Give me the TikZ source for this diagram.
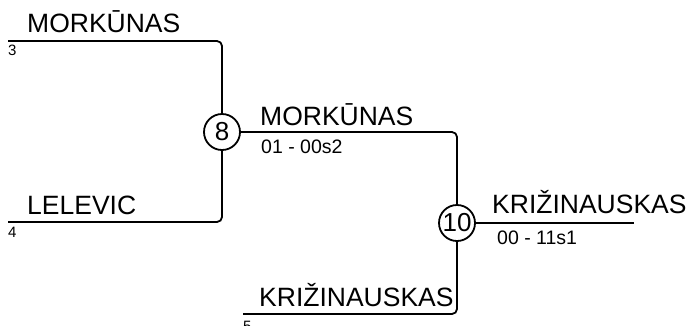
\documentclass[tikz,border=0pt]{standalone}
\usepackage{fontspec}
\setmainfont{Liberation Sans}
\begin{document}
\begin{tikzpicture}[x=1pt,y=-1pt,line join=round,line cap=butt,
		rnd/.style={line width=1.8pt,rounded corners=5pt},
		game/.style={circle,draw,line width=1.8pt,fill=white,minimum size=36pt,inner sep=0pt,font=\fontsize{26}{30}\selectfont},
		player/.style={anchor=base west,inner sep=0pt,font=\fontsize{26.5}{31}\selectfont},
		score/.style={anchor=base west,inner sep=0pt,font=\fontsize{19.5}{23}\selectfont},
		seed/.style={anchor=base west,inner sep=0pt,font=\fontsize{15}{18}\selectfont}]
	\useasboundingbox (0,0) rectangle (693,325);
	\coordinate (s3) at (8,41);
	\coordinate (s4) at (8,222);
	\coordinate (s5) at (243,314);
	\coordinate (win) at (634,223);
	\node[game] (m8) at (222,132) {8};
	\node[game] (m10) at (457,223) {10};
	\draw[rnd] (s3) -| (m8);
	\draw[rnd] (s4) -| (m8);
	\draw[rnd] (m8) -| (m10);
	\draw[rnd] (s5) -| (m10);
	\draw[rnd] (m10) -- (win);
	\node[player] (p3) at (27,32) {MORKŪNAS};
	\node[seed] (n3) at (8,55) {3};
	\node[player] (p4) at (27,214) {LELEVIC};
	\node[seed] (n4) at (8,237) {4};
	\node[player] (w8) at (260,125) {MORKŪNAS};
	\node[score] (r8) at (261,153) {01 - 00s2};
	\node[player] (p5) at (259,306) {KRIŽINAUSKAS};
	\node[seed] (n5) at (243,331) {5};
	\node[player] (w10) at (492,213) {KRIŽINAUSKAS};
	\node[score] (r10) at (497,244) {00 - 11s1};
\end{tikzpicture}
\end{document}
